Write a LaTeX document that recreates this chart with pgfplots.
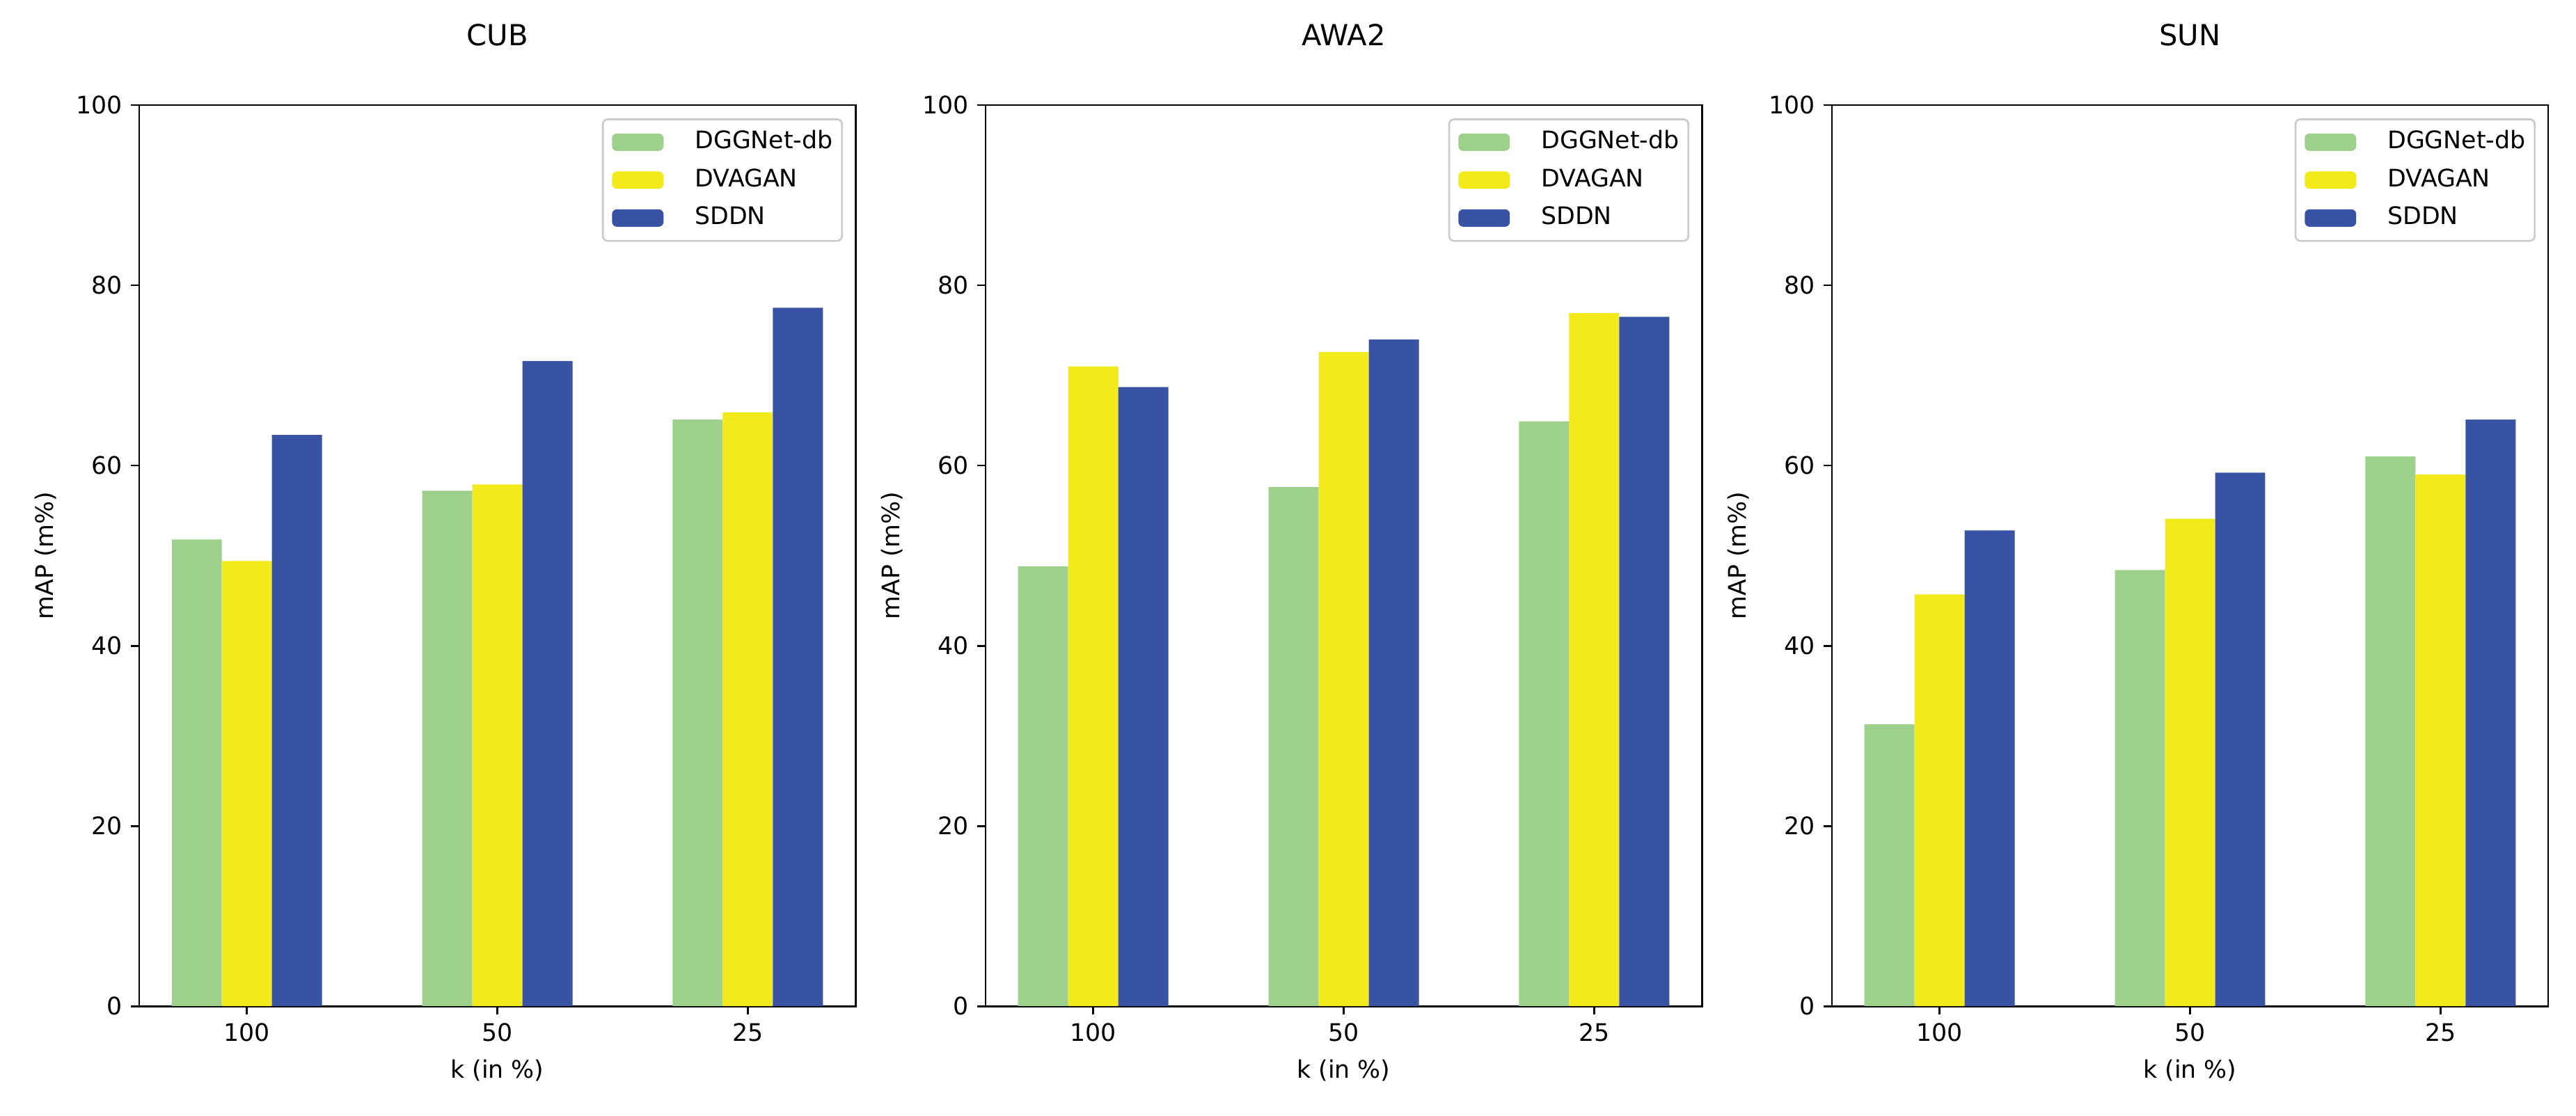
\documentclass[border=0pt]{standalone}
\usepackage{fontspec}
\setmainfont{DejaVu Sans}
\usepackage{pgfplots}
\pgfplotsset{compat=1.18}
\definecolor{cgreen}{HTML}{9DD08A}
\definecolor{cyellow}{HTML}{F2EA1A}
\definecolor{cblue}{HTML}{3853A4}
\pgfplotsset{
  mylegend/.style={legend image code/.code={\fill[##1] (0pt,-3.6pt) rectangle (21.3pt,3.6pt);}},
  myaxis/.style={
    scale only axis, width=296.4pt, height=373pt,
    anchor=south west,
    xmin=-0.43, xmax=2.43, ymin=0, ymax=100,
    xtick={0,1,2}, xticklabels={100,50,25},
    ytick={0,20,40,60,80,100},
    tick align=outside, xtick pos=bottom, ytick pos=left,
    major tick length=3.5pt,
    every tick/.style={black, line width=0.8pt},
    axis line style={line width=0.8pt},
    /pgf/number format/assume math mode=true,
    tick label style={font=\fontsize{10}{12}\selectfont},
    ybar, bar width=0.2,
    xlabel={k (in \%)}, ylabel={mAP (m\%)},
    label style={font=\fontsize{10}{12}\selectfont},
    every axis x label/.style={at={([yshift=-18.6pt]axis description cs:0.5,0)}, anchor=north},
    every axis y label/.style={at={([xshift=-30.6pt]axis description cs:0,0.5)}, rotate=90, anchor=south},
    title style={at={(0.5,1)}, anchor=base, yshift=18.7pt, font=\fontsize{12}{14.4}\selectfont},
    legend cell align=left,
    legend style={at={(1,1)}, anchor=north east, xshift=-5.2pt, yshift=-5.5pt,
      draw=black!20, rounded corners=2pt, fill=white, line width=0.8pt,
      font=\fontsize{10}{12}\selectfont, inner xsep=3.8pt, inner ysep=4.7pt,
      row sep=6.2pt, column sep=13pt,
      nodes={inner sep=0pt, text height=7.5pt, text depth=2pt}},
  }
}
\begin{document}
\begin{tikzpicture}
\path[use as bounding box] (0,0) rectangle (1065.9pt,461.7pt);
% CUB
\begin{axis}[myaxis, at={(57.6pt,45.2pt)}, title={CUB}]
\addplot[fill=cgreen, draw=none, bar shift=-0.2, mylegend] coordinates {(0,51.8) (1,57.2) (2,65.1)};
\addplot[fill=cyellow, draw=none, bar shift=0, mylegend] coordinates {(0,49.4) (1,57.9) (2,65.9)};
\addplot[fill=cblue, draw=none, bar shift=0.2, mylegend] coordinates {(0,63.4) (1,71.6) (2,77.5)};
\legend{DGGNet-db,DVAGAN,SDDN}
\end{axis}
% AWA2
\begin{axis}[myaxis, at={(407.8pt,45.2pt)}, title={AWA2}]
\addplot[fill=cgreen, draw=none, bar shift=-0.2, mylegend] coordinates {(0,48.8) (1,57.6) (2,64.9)};
\addplot[fill=cyellow, draw=none, bar shift=0, mylegend] coordinates {(0,71.0) (1,72.6) (2,76.9)};
\addplot[fill=cblue, draw=none, bar shift=0.2, mylegend] coordinates {(0,68.7) (1,74.0) (2,76.5)};
\legend{DGGNet-db,DVAGAN,SDDN}
\end{axis}
% SUN
\begin{axis}[myaxis, at={(758.0pt,45.2pt)}, title={SUN}]
\addplot[fill=cgreen, draw=none, bar shift=-0.2, mylegend] coordinates {(0,31.3) (1,48.4) (2,61.0)};
\addplot[fill=cyellow, draw=none, bar shift=0, mylegend] coordinates {(0,45.7) (1,54.1) (2,59.0)};
\addplot[fill=cblue, draw=none, bar shift=0.2, mylegend] coordinates {(0,52.8) (1,59.2) (2,65.1)};
\legend{DGGNet-db,DVAGAN,SDDN}
\end{axis}
\end{tikzpicture}
\end{document}
